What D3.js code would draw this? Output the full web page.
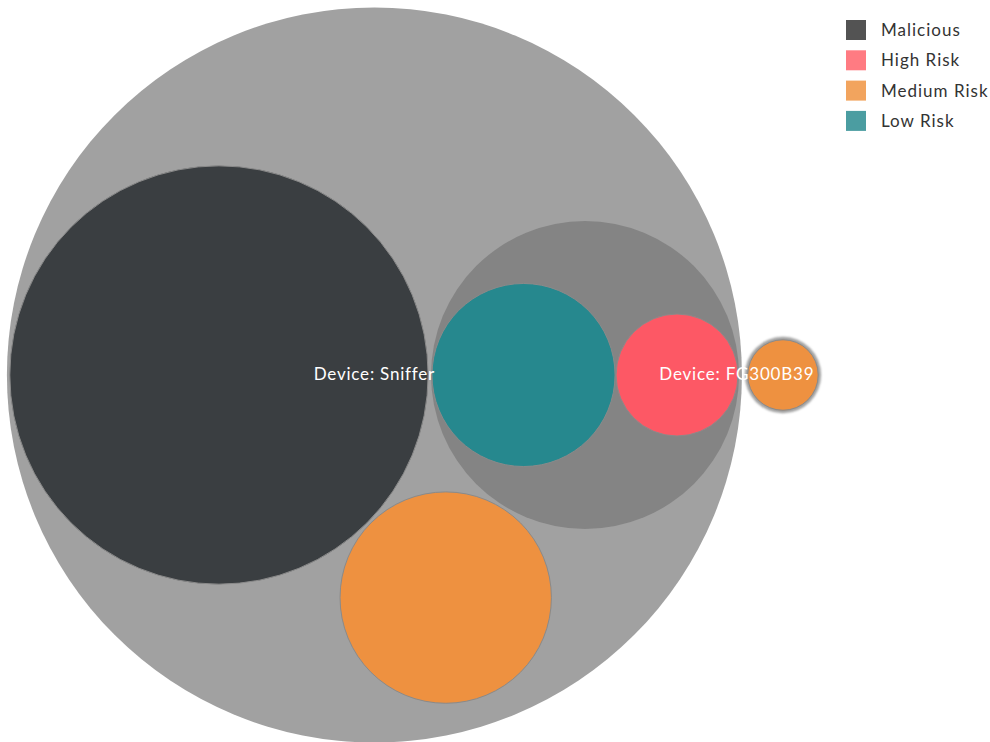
<!DOCTYPE html>
<html>
<head>
<meta charset="utf-8">
<script src="https://d3js.org/d3.v7.min.js"></script>
<style>
  body { margin: 0; background: #fff; font-family: Lato, "Open Sans", sans-serif; }
</style>
</head>
<body>
<script>
// devices and risk counts
var devices = ["Device: Sniffer", "Device: FG300B39"];
var riskLevels = ["Malicious", "High Risk", "Medium Risk", "Low Risk"];
var snifferCounts = [141, 12, 36, 27];   // Malicious, High, Medium, Low
var fgCounts = [0, 0, 4, 0];
var riskColors = ["#3a3e41", "#fd5865", "#ee9140", "#26888e"];
var legendColors = ["#535353", "#ff7b82", "#f2a45e", "#4b9da1"];

var svgWidth = 990;
var svgHeight = 742;

var svg = d3.select("body")
  .append("svg")
  .attr("width", svgWidth)
  .attr("height", svgHeight);

// build hierarchy: high and low risk of the sniffer sit in their own group
function leaves(counts) {
  return riskLevels.map(function(r, i) { return { name: r, risk: i, value: counts[i] }; })
    .filter(function(d) { return d.value > 0; });
}
var sniffLeaves = leaves(snifferCounts);
var grouped = sniffLeaves.filter(function(d) { return d.risk === 1 || d.risk === 3; });
var loose = sniffLeaves.filter(function(d) { return d.risk === 0 || d.risk === 2; });

var data = {
  name: "root",
  children: [
    { name: devices[0], device: true, children: loose.concat([{ name: "group", children: grouped }]) },
    { name: devices[1], device: true, children: leaves(fgCounts) }
  ]
};

var root = d3.hierarchy(data)
  .sum(function(d) { return d.value || 0; })
  .sort(function(a, b) { return b.value - a.value; });

var diameter = 820;
var pack = d3.pack()
  .size([diameter, diameter])
  .padding(function(d) { return d.depth === 2 ? 1 : 3; });
pack(root);

var g = svg.append("g")
  .attr("transform", "translate(" + (414 - diameter / 2) + "," + (375 - diameter / 2) + ")");

var defs = svg.append("defs");
var blur = defs.append("filter").attr("id", "soft")
  .attr("x", "-20%").attr("y", "-20%").attr("width", "140%").attr("height", "140%");
blur.append("feGaussianBlur").attr("stdDeviation", 1.2);

function fillFor(d) {
  if (d.data.risk !== undefined) return riskColors[d.data.risk];
  if (d.data.device) return "#a1a1a1";
  return "#848484";
}

g.selectAll("circle")
  .data(root.descendants().filter(function(d) { return d.depth > 0; }))
  .enter()
  .append("circle")
  .attr("cx", d => d.x)
  .attr("cy", d => d.y)
  .attr("r", d => d.r)
  .attr("fill", fillFor)
  .attr("stroke", d => d.data.risk !== undefined ? "#8a8a8a" : "none")
  .attr("stroke-width", 1)
  .attr("filter", d => (d.data.device && d.r < 60) ? "url(#soft)" : null);

// device labels
var deviceNodes = root.children;
g.selectAll("text.device")
  .data(deviceNodes)
  .enter()
  .append("text")
  .attr("class", "device")
  .attr("x", d => d.r > 100 ? d.x : d.x - d.r - 8)
  .attr("y", d => d.y)
  .attr("dy", "0.3em")
  .attr("text-anchor", "middle")
  .attr("font-size", "17px")
  .attr("letter-spacing", "0.8px")
  .attr("fill", "#ffffff")
  .text(d => d.data.name);

// legend
var legend = svg.append("g")
  .attr("transform", "translate(846, 20)");

var items = legend.selectAll("g")
  .data(riskLevels)
  .enter()
  .append("g")
  .attr("transform", (d, i) => "translate(0," + (i * 30.3) + ")");

items.append("rect")
  .attr("width", 20)
  .attr("height", 20)
  .attr("fill", (d, i) => legendColors[i]);

items.append("text")
  .attr("x", 35)
  .attr("y", 10)
  .attr("dy", "0.35em")
  .attr("font-size", "17px")
  .attr("letter-spacing", "1px")
  .attr("fill", "#333")
  .text(d => d);
</script>
</body>
</html>
